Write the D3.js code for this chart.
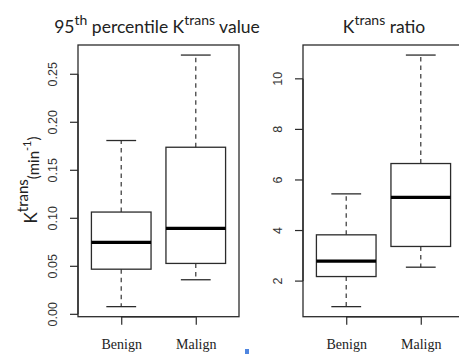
<!DOCTYPE html>
<html><head><meta charset="utf-8">
<script src="https://cdn.jsdelivr.net/npm/d3@7"></script>
<style>body{margin:0;background:#fff}svg{display:block}</style>
</head><body>
<script>
// ---- data ----
const categories = ["Benign", "Malign"];
// 95th percentile Ktrans value (min^-1)
const p95Min    = [0.008, 0.036];
const p95Q1     = [0.047, 0.053];
const p95Median = [0.075, 0.0895];
const p95Q3     = [0.1065, 0.174];
const p95Max    = [0.181, 0.270];
const p95Ticks  = [0.00, 0.05, 0.10, 0.15, 0.20, 0.25];
// Ktrans ratio
const ratioMin    = [0.99, 2.55];
const ratioQ1     = [2.18, 3.37];
const ratioMedian = [2.79, 5.31];
const ratioQ3     = [3.83, 6.65];
const ratioMax    = [5.45, 10.94];
const ratioTicks  = [2, 4, 6, 8, 10];

const W = 459, H = 356;
const svg = d3.select("body").append("svg").attr("width", W).attr("height", H);
const ink = "#2b2b2b";

function panel(opts) {
  const {left, right, top, bottom, mins, q1s, meds, q3s, maxs, ticks, fmt} = opts;
  const g = svg.append("g");
  const lo = d3.min(mins), hi = d3.max(maxs), ext = (hi - lo) * 0.04;
  const y = d3.scaleLinear().domain([lo - ext, hi + ext]).range([bottom, top]);
  const x = d3.scaleLinear().domain([0.42, 2.58]).range([left, right]);
  const boxHalf = (x(1.4) - x(1));
  const stapleHalf = boxHalf / 2;

  g.append("rect").attr("x", left).attr("y", top)
    .attr("width", right - left).attr("height", bottom - top)
    .attr("fill", "none").attr("stroke", ink).attr("stroke-width", 1.3);

  const yAx = d3.axisLeft(y).tickValues(ticks).tickSize(8).tickSizeOuter(0).tickFormat(fmt);
  const ya = g.append("g").attr("transform", `translate(${left},0)`).call(yAx);
  ya.select(".domain").attr("stroke", ink).attr("stroke-width", 1.3)
    .attr("d", `M0,${y(ticks[0])}V${y(ticks[ticks.length-1])}`);
  ya.selectAll(".tick").attr("transform", "translate(0,0)");
  ya.selectAll(".tick line").attr("stroke", ink).attr("stroke-width", 1.2)
    .attr("y1", d => y(d)).attr("y2", d => y(d));
  ya.selectAll(".tick text")
    .attr("font-family", "'Liberation Sans', Arial, sans-serif").attr("font-size", 12.5).attr("fill", "#333")
    .attr("transform", d => `translate(-21,${y(d)}) rotate(-90)`)
    .attr("x", 0).attr("y", 0).attr("dy", 0).attr("text-anchor", "middle");

  const xAx = d3.axisBottom(x).tickValues([1, 2]).tickSize(8).tickSizeOuter(0).tickFormat(d => categories[d - 1]);
  const xa = g.append("g").attr("transform", `translate(0,${bottom})`).call(xAx);
  xa.select(".domain").attr("stroke", ink).attr("stroke-width", 1.6)
    .attr("d", `M${x(1)},0H${x(2)}`);
  xa.selectAll(".tick line").attr("stroke", ink).attr("stroke-width", 1.2);
  xa.selectAll(".tick text")
    .attr("font-family", "'Liberation Serif', 'Times New Roman', serif").attr("font-size", 14).attr("fill", "#222")
    .attr("y", 32).attr("dy", 0);

  categories.forEach((c, i) => {
    const cx = x(i + 1);
    g.append("line").attr("x1", cx).attr("x2", cx).attr("y1", y(q3s[i])).attr("y2", y(maxs[i]))
      .attr("stroke", "#444").attr("stroke-width", 1.3).attr("stroke-dasharray", "4.5,4");
    g.append("line").attr("x1", cx).attr("x2", cx).attr("y1", y(q1s[i])).attr("y2", y(mins[i]))
      .attr("stroke", "#444").attr("stroke-width", 1.3).attr("stroke-dasharray", "4.5,4");
    [maxs[i], mins[i]].forEach(v => {
      g.append("line").attr("x1", cx - stapleHalf).attr("x2", cx + stapleHalf)
        .attr("y1", y(v)).attr("y2", y(v)).attr("stroke", ink).attr("stroke-width", 1.3);
    });
    g.append("rect").attr("x", cx - boxHalf).attr("width", 2 * boxHalf)
      .attr("y", y(q3s[i])).attr("height", y(q1s[i]) - y(q3s[i]))
      .attr("fill", "none").attr("stroke", ink).attr("stroke-width", 1.3);
    g.append("line").attr("x1", cx - boxHalf).attr("x2", cx + boxHalf)
      .attr("y1", y(meds[i])).attr("y2", y(meds[i])).attr("stroke", "#000").attr("stroke-width", 3.2);
  });
  return {x, y};
}

panel({left: 78, right: 239, top: 45, bottom: 316.7,
  mins: p95Min, q1s: p95Q1, meds: p95Median, q3s: p95Q3, maxs: p95Max,
  ticks: p95Ticks, fmt: d3.format(".2f")});
panel({left: 303, right: 464, top: 45, bottom: 316.7,
  mins: ratioMin, q1s: ratioQ1, meds: ratioMedian, q3s: ratioQ3, maxs: ratioMax,
  ticks: ratioTicks, fmt: d3.format("d")});

const tFont = "Lato, 'Open Sans', sans-serif";
const t1 = svg.append("text").attr("x", 157).attr("y", 33).attr("text-anchor", "middle")
  .attr("font-family", tFont).attr("font-size", 17.5).attr("fill", "#222");
t1.append("tspan").text("95");
t1.append("tspan").attr("font-size", 14).attr("dy", -8).text("th");
t1.append("tspan").attr("dy", 8).text(" percentile K");
t1.append("tspan").attr("font-size", 14).attr("dy", -8).text("trans");
t1.append("tspan").attr("dy", 8).text(" value");
const t2 = svg.append("text").attr("x", 384).attr("y", 33).attr("text-anchor", "middle")
  .attr("font-family", tFont).attr("font-size", 17.5).attr("fill", "#222");
t2.append("tspan").text("K");
t2.append("tspan").attr("font-size", 14).attr("dy", -8).text("trans");
t2.append("tspan").attr("dy", 8).text(" ratio");

const yl = svg.append("text").attr("transform", "translate(37,180) rotate(-90)")
  .attr("text-anchor", "middle").attr("font-family", tFont).attr("font-size", 17).attr("fill", "#222");
yl.append("tspan").text("K");
yl.append("tspan").attr("font-size", 15).attr("dy", -9).text("trans");
yl.append("tspan").attr("font-size", 15).attr("dy", 11).text("(min");
yl.append("tspan").attr("font-size", 11).attr("dy", -8).text("-1");
yl.append("tspan").attr("font-size", 15).attr("dy", 8).text(")");

svg.append("rect").attr("x", 245).attr("y", 349).attr("width", 4).attr("height", 5).attr("fill", "#4f86e0");
</script>
</body></html>
